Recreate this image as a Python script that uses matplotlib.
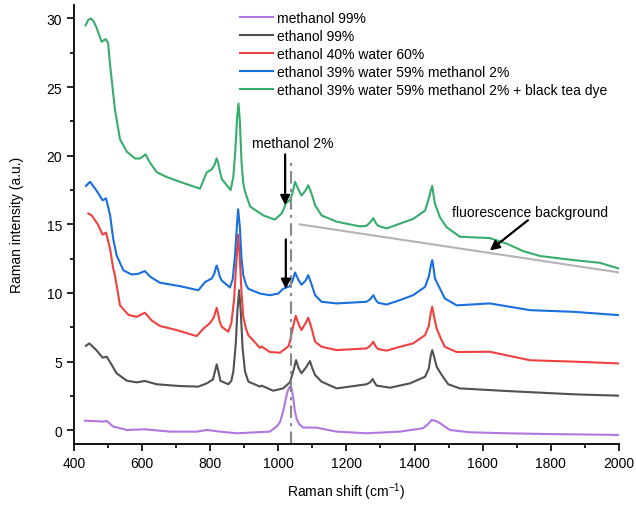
import matplotlib
matplotlib.use('Agg')
import matplotlib.pyplot as plt

plt.rcParams['font.family'] = ['Liberation Sans', 'DejaVu Sans']
plt.rcParams['font.size'] = 10
plt.rcParams['mathtext.fontset'] = 'custom'
plt.rcParams['mathtext.rm'] = 'Liberation Sans'

# spectra (Raman shift cm-1, intensity a.u.)
methanol_x = [432, 486, 496, 515, 555, 608, 682, 760, 790, 829, 878, 975, 995, 1005, 1014, 1022,
              1028, 1034, 1038, 1043, 1048, 1054, 1062, 1073, 1112, 1171, 1259, 1357, 1425,
              1440, 1450, 1462, 1475, 1504, 1563, 1670, 1800, 1998]
methanol_y = [0.70, 0.63, 0.68, 0.27, 0.02, 0.07, -0.10, -0.10, 0.02, -0.10, -0.22, -0.10, 0.27,
              0.60, 1.36, 2.30, 2.90, 3.18, 3.10, 2.50, 1.50, 0.80, 0.42, 0.20, 0.19, -0.10,
              -0.22, -0.10, 0.15, 0.45, 0.75, 0.68, 0.51, 0.02, -0.15, -0.22, -0.28, -0.34]

ethanol_x = [435, 445, 465, 484, 496, 511, 525, 555, 584, 608, 643, 711, 765, 790, 808, 814, 819,
             824, 830, 853, 862, 868, 875, 880, 885, 890, 895, 902, 912, 946, 951, 985, 1014,
             1034, 1044, 1052, 1060, 1068, 1082, 1093, 1100, 1108, 1127, 1171, 1259, 1270, 1277,
             1283, 1289, 1328, 1387, 1431, 1442, 1448, 1452, 1458, 1465, 1480, 1499, 1533, 1670,
             1866, 1998]
ethanol_y = [6.16, 6.33, 5.85, 5.29, 5.36, 4.75, 4.15, 3.61, 3.49, 3.59, 3.35, 3.22, 3.18, 3.42,
             3.70, 4.30, 4.80, 4.30, 3.60, 3.35, 3.60, 4.30, 6.30, 8.80, 10.20, 8.50, 6.00, 4.30,
             3.54, 3.18, 3.25, 2.88, 3.05, 3.49, 4.30, 5.11, 4.50, 4.15, 4.60, 5.04, 4.50, 4.02,
             3.54, 3.05, 3.35, 3.50, 3.73, 3.45, 3.25, 3.10, 3.42, 3.90, 4.50, 5.50, 5.84, 5.30,
             4.63, 4.02, 3.35, 3.05, 2.86, 2.62, 2.52]

water_x = [442, 452, 470, 484, 494, 506, 515, 520, 535, 560, 584, 608, 628, 652, 701, 760, 780,
           799, 810, 815, 819, 823, 828, 834, 853, 862, 870, 876, 882, 887, 892, 897, 905, 912,
           946, 951, 975, 1005, 1029, 1034, 1042, 1051, 1060, 1068, 1080, 1088, 1098, 1108,
           1127, 1171, 1259, 1270, 1279, 1286, 1293, 1318, 1357, 1396, 1431, 1442, 1448, 1452,
           1458, 1465, 1477, 1489, 1524, 1621, 1739, 1866, 1998]
water_y = [15.80, 15.65, 15.00, 14.25, 14.40, 13.20, 11.80, 11.30, 9.10, 8.40, 8.27, 8.56, 8.00,
           7.60, 7.30, 6.86, 7.40, 7.80, 8.20, 8.60, 8.92, 8.50, 7.90, 7.54, 7.18, 7.80, 9.50,
           12.00, 14.25, 12.50, 10.00, 8.27, 7.40, 6.93, 6.00, 6.10, 5.70, 5.65, 6.10, 6.45,
           7.40, 8.34, 7.70, 7.30, 7.80, 8.20, 7.40, 6.45, 6.08, 5.84, 5.96, 6.15, 6.45, 6.10,
           5.92, 5.80, 6.08, 6.33, 6.93, 7.60, 8.60, 9.00, 8.20, 7.42, 6.70, 6.08, 5.70, 5.72,
           5.10, 5.00, 4.87]

mix_x = [435, 447, 465, 484, 494, 506, 515, 525, 545, 569, 589, 608, 623, 652, 711, 765, 785, 804,
         812, 816, 819, 823, 828, 834, 858, 866, 873, 878, 882, 887, 892, 897, 905, 912, 946,
         975, 1000, 1014, 1034, 1042, 1049, 1058, 1068, 1080, 1088, 1098, 1108, 1127, 1171,
         1259, 1270, 1279, 1286, 1293, 1318, 1357, 1396, 1431, 1442, 1448, 1452, 1456, 1460,
         1477, 1489, 1524, 1621, 1739, 1866, 1998]
mix_y = [17.80, 18.10, 17.50, 16.75, 16.90, 15.65, 13.96, 12.75, 11.65, 11.35, 11.40, 11.60,
         11.20, 10.75, 10.50, 10.20, 10.80, 11.05, 11.40, 11.80, 12.00, 11.70, 11.20, 10.90,
         10.40, 11.00, 12.80, 14.80, 16.10, 14.80, 12.50, 11.30, 10.60, 10.30, 9.96, 9.84,
         9.96, 10.30, 10.50, 10.90, 11.50, 11.00, 10.60, 10.90, 11.30, 10.60, 9.84, 9.36,
         9.24, 9.36, 9.55, 9.84, 9.50, 9.29, 9.16, 9.48, 9.84, 10.45, 11.20, 12.00, 12.40,
         11.80, 11.05, 10.20, 9.60, 9.10, 9.24, 8.75, 8.63, 8.39]

tea_x = [434, 442, 449, 456, 465, 481, 493, 500, 506, 520, 535, 555, 579, 594, 610, 623, 643, 672,
         711, 770, 790, 804, 812, 816, 819, 823, 828, 834, 860, 868, 874, 879, 883, 887, 892,
         897, 902, 917, 941, 956, 990, 1010, 1024, 1034, 1042, 1049, 1058, 1068, 1078, 1088,
         1098, 1108, 1127, 1171, 1240, 1259, 1270, 1279, 1286, 1293, 1318, 1357, 1396, 1431,
         1442, 1448, 1452, 1456, 1460, 1475, 1494, 1533, 1621, 1670, 1719, 1768, 1866, 1944,
         1998]
tea_y = [29.50, 29.90, 30.00, 29.85, 29.40, 28.30, 28.50, 28.20, 26.60, 23.40, 21.20, 20.30,
         19.80, 19.80, 20.10, 19.50, 18.80, 18.45, 18.10, 17.60, 18.80, 19.00, 19.30, 19.60,
         19.80, 19.50, 18.90, 18.30, 17.50, 18.50, 20.50, 22.80, 23.80, 22.50, 19.50, 18.00,
         17.40, 16.30, 15.90, 15.65, 15.35, 15.80, 16.60, 16.75, 17.30, 18.10, 17.60, 17.10,
         17.40, 17.85, 17.20, 16.40, 15.65, 15.20, 14.85, 14.90, 15.15, 15.45, 15.10, 14.90,
         14.70, 15.05, 15.40, 16.00, 16.90, 17.50, 17.80, 17.10, 16.50, 15.50, 14.80, 14.10,
         14.00, 13.60, 13.05, 12.70, 12.40, 12.20, 11.80]

labels = ['methanol 99%', 'ethanol 99%', 'ethanol 40% water 60%',
          'ethanol 39% water 59% methanol 2%',
          'ethanol 39% water 59% methanol 2% + black tea dye']
colors = ['#B177DE', '#515151', '#F14040', '#1A6FDF', '#37AD6B']

# fluorescence baseline under the tea spectrum
bg_x = [1063, 2000]
bg_y = [15.0, 11.5]

marker_x = 1037  # methanol C-O band

fig = plt.figure(figsize=(6.36, 5.06), dpi=100)
ax = fig.add_axes([0.1164, 0.1206, 0.8566, 0.868])

series = [(methanol_x, methanol_y), (ethanol_x, ethanol_y), (water_x, water_y),
          (mix_x, mix_y), (tea_x, tea_y)]
for (xs, ys), lab, col in zip(series, labels, colors):
    ax.plot(xs, ys, color=col, lw=1.5, label=lab, solid_joinstyle='round')

ax.plot(bg_x, bg_y, color='#B4B4B4', lw=1.5)
ax.plot([marker_x, marker_x], [-1, 19.6], color='#888888', lw=1.5, ls=(0, (6, 2.5, 1.5, 2.5)))

arrow = dict(arrowstyle='-|>', color='black', lw=1.6, mutation_scale=14, shrinkA=0, shrinkB=0)
ax.annotate('', xy=(1020, 16.4), xytext=(1020, 20.1), arrowprops=arrow)
ax.annotate('', xy=(1022, 10.3), xytext=(1022, 13.9), arrowprops=arrow)
ax.annotate('', xy=(1621, 13.1), xytext=(1733, 15.3), arrowprops=arrow)
ax.text(1041, 20.9, 'methanol 2%', ha='center', va='center', fontsize=10)
ax.text(1510, 15.9, 'fluorescence background', ha='left', va='center', fontsize=10)

ax.set_xlim(400, 2000)
ax.set_ylim(-1, 31)
ax.set_xticks(range(400, 2001, 200))
ax.set_xticks(range(500, 2000, 200), minor=True)
ax.set_yticks([0, 5, 10, 15, 20, 25, 30])
ax.set_yticks([2.5, 7.5, 12.5, 17.5, 22.5, 27.5], minor=True)
ax.tick_params(which='major', direction='out', length=5, width=1.2, labelsize=10)
ax.tick_params(which='minor', direction='out', length=3, width=1.2)
for s in ['top', 'right']:
    ax.spines[s].set_visible(False)
for s in ['left', 'bottom']:
    ax.spines[s].set_linewidth(1.3)

ax.set_xlabel('Raman shift (cm$^{-1}$)', fontsize=10, labelpad=8)
ax.set_ylabel('Raman intensity (a.u.)', fontsize=10, labelpad=16)

ax.legend(loc='upper left', bbox_to_anchor=(0.305, 0.985), frameon=False, borderpad=0,
          borderaxespad=0, handlelength=2.35, handletextpad=0.3, labelspacing=0.28,
          fontsize=10)

fig.savefig('out.png', dpi=100)
